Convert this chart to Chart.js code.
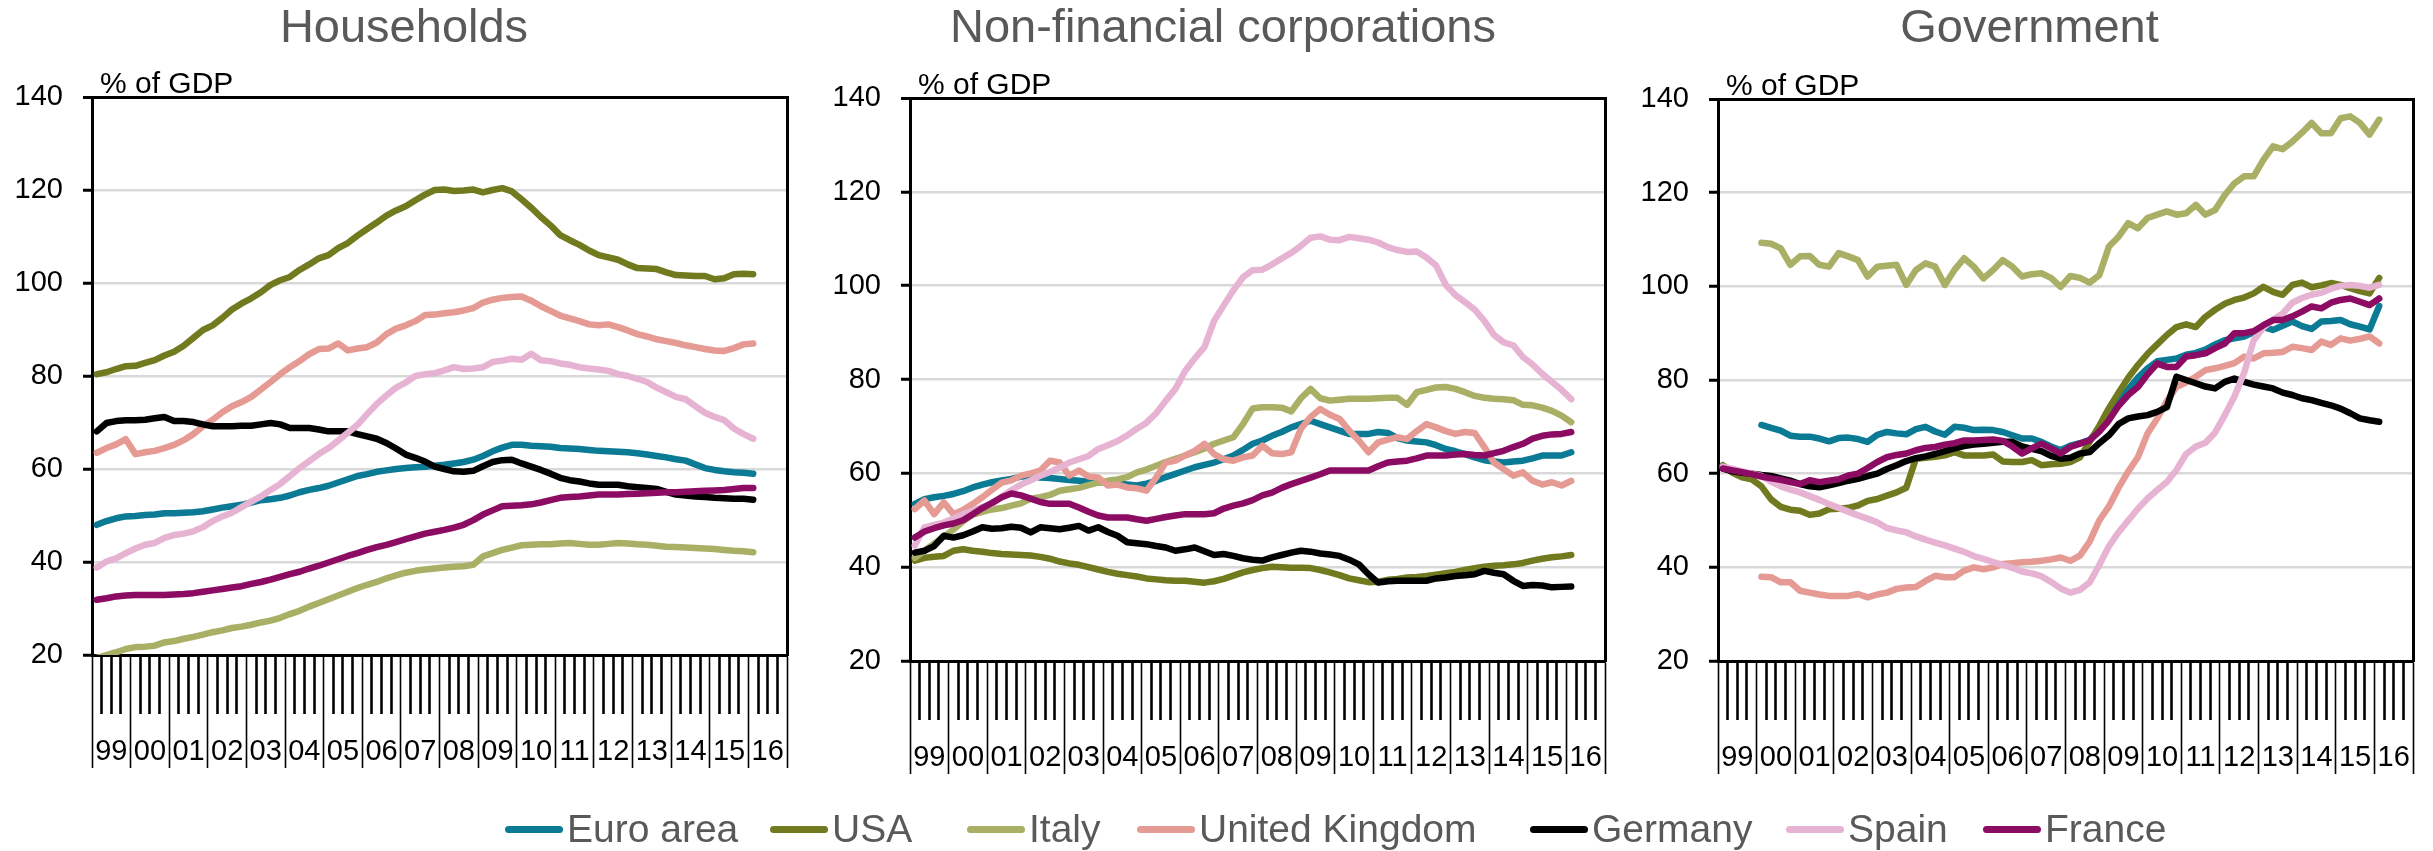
<!DOCTYPE html>
<html>
<head>
<meta charset="utf-8">
<title>Debt by sector</title>
<script src="https://cdn.jsdelivr.net/npm/chart.js@4.4.1/dist/chart.umd.min.js"></script>
<style>
  body { margin: 0; background: #fff; width: 2433px; height: 851px; overflow: hidden; position: relative; }
  canvas { position: absolute; top: 0; }
  #legend { position: absolute; left: 0; top: 807px; width: 2433px; height: 44px;
            font: 39px "Liberation Sans", Arial, sans-serif; line-height: 44px; color: #595959; white-space: nowrap; }
  #legend .item { position: absolute; top: 0; display: flex; align-items: center; height: 44px; }
  #legend .swatch { width: 58px; height: 7px; border-radius: 4px; margin-right: 4px; }
</style>
</head>
<body>
<canvas id="households" width="808" height="851" style="left:0px"></canvas>
<canvas id="corporations" width="810" height="851" style="left:818px"></canvas>
<canvas id="government" width="807" height="851" style="left:1626px"></canvas>
<div id="legend"></div>
<script>
// quarterly, 1999Q1 .. 2016Q1 (69 points), % of GDP
const yearLabels = ['99','00','01','02','03','04','05','06','07','08','09','10','11','12','13','14','15','16'];
const seriesNames = ['Euro area', 'USA', 'Italy', 'United Kingdom', 'Germany', 'Spain', 'France'];
const seriesColors = ['#0b7a94', '#717a1e', '#a9b066', '#e59a93', '#000000', '#e7b3d3', '#8c0b63'];
const legendLeft = [505, 770, 967, 1137, 1530, 1786, 1983];

// Households
const hhEuro = [48.0,48.8,49.4,49.8, 49.9,50.1,50.2,50.5, 50.5,50.6,50.7,50.9, 51.3,51.7,52.0,52.3, 52.8,53.3,53.5,53.8, 54.3,55.0,55.5,55.9, 56.4,57.1,57.8,58.5, 58.9,59.4,59.7,60.0, 60.2,60.4,60.5,60.7, 60.9,61.2,61.5,62.0, 62.8,63.8,64.6,65.2, 65.2,65.0,64.9,64.8, 64.5,64.4,64.3,64.1, 63.9,63.8,63.7,63.6, 63.4,63.1,62.8,62.5, 62.1,61.8,61.0,60.2, 59.8,59.5,59.3,59.2, 59.0];
const hhUsa = [80.4,80.8,81.5,82.1, 82.2,82.8,83.4,84.4, 85.2,86.5,88.2,89.9, 90.9,92.5,94.3,95.6, 96.7,98.0,99.6,100.6, 101.3,102.8,104.0,105.3, 106.0,107.5,108.6,110.2, 111.6,113.0,114.5,115.6, 116.5,117.8,119.0,120.0, 120.1,119.8,119.9,120.1, 119.5,120.0,120.4,119.7, 118.0,116.2,114.2,112.4, 110.3,109.2,108.2,107.0, 106.0,105.5,105.0,104.0, 103.2,103.1,103.0,102.3, 101.7,101.6,101.5,101.5, 100.8,101.0,101.9,102.0, 101.9];
const hhItaly = [19.4,20.0,20.6,21.3, 21.7,21.8,22.0,22.7, 23.0,23.5,23.9,24.4, 24.9,25.3,25.8,26.1, 26.5,27.0,27.4,28.0, 28.8,29.5,30.4,31.2, 32.0,32.8,33.6,34.4, 35.1,35.7,36.5,37.1, 37.7,38.1,38.4,38.6, 38.8,39.0,39.1,39.4, 41.2,41.9,42.6,43.1, 43.6,43.7,43.8,43.8, 44.0,44.1,43.9,43.7, 43.7,43.9,44.1,44.0, 43.8,43.7,43.5,43.3, 43.2,43.1,43.0,42.9, 42.8,42.6,42.4,42.3, 42.1];
const hhUk = [63.5,64.5,65.3,66.4, 63.2,63.6,63.9,64.5, 65.2,66.2,67.5,69.2, 70.6,72.2,73.5,74.4, 75.5,77.1,78.7,80.4, 81.9,83.2,84.7,85.8, 85.9,87.0,85.5,85.9, 86.2,87.2,89.0,90.2, 90.9,91.8,93.1,93.2, 93.5,93.7,94.1,94.6, 95.8,96.4,96.8,97.0, 97.1,96.2,95.0,94.0, 93.0,92.4,91.8,91.1, 90.9,91.1,90.5,89.8, 89.0,88.5,87.9,87.5, 87.1,86.6,86.2,85.8, 85.5,85.4,86.0,86.8, 87.0];
const hhGermany = [68.1,69.9,70.3,70.5, 70.5,70.6,70.9,71.2, 70.3,70.3,70.1,69.6, 69.2,69.2,69.2,69.3, 69.3,69.6,69.9,69.6, 68.8,68.8,68.8,68.5, 68.1,68.1,68.1,67.5, 67.0,66.5,65.6,64.4, 63.1,62.4,61.6,60.5, 60.0,59.5,59.4,59.6, 60.6,61.5,61.9,62.0, 61.2,60.5,59.8,59.0, 58.1,57.6,57.3,56.9, 56.6,56.6,56.6,56.3, 56.1,55.9,55.7,55.1, 54.5,54.3,54.1,54.0, 53.8,53.7,53.6,53.6, 53.4];
const hhSpain = [38.8,40.1,40.8,41.9, 42.9,43.7,44.1,45.2, 45.8,46.1,46.6,47.5, 48.8,49.8,50.6,51.8, 53.0,54.1,55.5,56.8, 58.5,60.2,61.7,63.2, 64.5,66.1,67.8,69.5, 71.8,74.0,75.8,77.5, 78.6,80.0,80.4,80.6, 81.2,81.9,81.5,81.6, 81.9,83.0,83.3,83.7, 83.5,84.8,83.4,83.2, 82.7,82.4,81.9,81.6, 81.4,81.1,80.4,80.0, 79.4,78.7,77.5,76.5, 75.5,75.0,73.5,72.1, 71.2,70.5,68.7,67.5, 66.5];
const hhFrance = [31.9,32.2,32.6,32.8, 32.9,32.9,32.9,32.9, 33.0,33.1,33.3,33.6, 33.9,34.2,34.5,34.8, 35.3,35.7,36.2,36.8, 37.4,37.9,38.6,39.2, 39.9,40.6,41.3,41.9, 42.6,43.2,43.7,44.3, 44.9,45.5,46.1,46.5, 46.9,47.4,48.0,49.0, 50.2,51.1,52.0,52.1, 52.2,52.4,52.8,53.3, 53.8,54.0,54.1,54.3, 54.5,54.5,54.5,54.6, 54.7,54.8,54.9,55.0, 55.0,55.1,55.2,55.3, 55.4,55.5,55.7,55.9, 55.9];

// Non-financial corporations
const nfcEuro = [53.5,54.5,54.9,55.2, 55.6,56.2,57.0,57.6, 58.1,58.5,58.8,59.3, 59.4,59.1,59.0,58.8, 58.6,58.4,58.2,58.1, 58.1,58.0,57.6,57.4, 57.8,58.4,59.2,59.9, 60.6,61.3,61.8,62.3, 63.0,63.8,65.0,66.3, 67.0,68.0,68.8,69.8, 70.5,71.2,70.5,69.8, 69.1,68.4,68.4,68.4, 68.8,68.6,67.5,67.0, 66.8,66.6,66.0,65.2, 64.7,64.1,63.4,62.8, 62.5,62.3,62.5,62.7, 63.2,63.8,63.8,63.8, 64.5];
const nfcUsa = [41.4,42.0,42.2,42.4, 43.5,43.8,43.5,43.3, 43.0,42.8,42.7,42.6, 42.5,42.2,41.8,41.2, 40.8,40.5,40.0,39.5, 39.0,38.6,38.3,38.0, 37.6,37.4,37.2,37.1, 37.1,36.9,36.7,37.0, 37.5,38.2,38.9,39.4, 39.8,40.1,40.0,39.9, 39.9,39.8,39.4,38.9, 38.3,37.6,37.2,36.8, 36.9,37.3,37.5,37.8, 37.9,38.1,38.4,38.7, 39.0,39.4,39.8,40.1, 40.3,40.4,40.6,40.9, 41.4,41.8,42.1,42.3, 42.6];
const nfcItaly = [42.0,43.5,45.0,46.5, 48.0,49.8,51.2,51.8, 52.3,52.6,53.1,53.6, 54.6,54.9,55.4,56.3, 56.6,56.9,57.5,58.0, 58.4,58.7,59.2,60.2, 60.8,61.6,62.4,63.1, 63.8,64.5,65.3,66.3, 67.0,67.7,70.5,73.8, 74.1,74.1,74.0,73.2, 76.0,78.0,76.0,75.5, 75.7,75.9,75.9,75.9, 76.0,76.1,76.1,74.6, 77.3,77.8,78.3,78.4, 78.0,77.3,76.5,76.1, 75.9,75.8,75.6,74.6, 74.5,74.0,73.3,72.3, 70.9];
const nfcUk = [52.4,54.2,51.3,53.8, 51.3,52.2,53.5,54.9, 56.5,58.0,58.5,59.5, 60.0,60.6,62.7,62.3, 59.5,60.6,59.3,59.1, 57.4,57.6,57.0,56.8, 56.3,59.1,62.3,62.7, 63.8,64.8,66.3,64.1, 63.0,62.7,63.4,63.8, 65.9,64.3,64.1,64.5, 69.5,72.0,73.7,72.5, 71.6,69.1,67.0,64.5, 66.6,67.2,67.7,67.3, 69.0,70.5,69.8,69.0, 68.4,68.8,68.6,65.6, 62.3,60.9,59.5,60.2, 58.4,57.6,58.1,57.4, 58.4];
const nfcGermany = [43.1,43.5,44.5,46.7, 46.3,46.8,47.6,48.5, 48.2,48.3,48.6,48.4, 47.4,48.5,48.3,48.1, 48.4,48.8,47.8,48.5, 47.5,46.7,45.3,45.1, 44.9,44.5,44.2,43.5, 43.8,44.2,43.4,42.6, 42.8,42.4,41.9,41.6, 41.4,42.1,42.6,43.1, 43.5,43.3,42.9,42.7, 42.4,41.6,40.6,38.5, 36.7,37.0,37.1,37.1, 37.1,37.1,37.6,37.8, 38.1,38.3,38.5,39.2, 38.8,38.5,37.1,36.0, 36.2,36.1,35.7,35.8, 35.9];
const nfcSpain = [44.6,48.5,49.0,49.5, 50.4,51.3,52.0,52.8, 53.5,55.0,56.4,57.6, 58.5,59.5,60.3,61.2, 62.3,63.0,63.7,65.2, 66.0,66.9,68.1,69.5, 70.8,72.8,75.5,78.0, 81.8,84.5,86.9,92.5, 95.8,99.0,101.8,103.3, 103.4,104.5,105.8,107.0, 108.5,110.2,110.5,109.8, 109.7,110.4,110.1,109.8, 109.2,108.2,107.6,107.2, 107.3,106.0,104.3,100.2, 98.0,96.5,94.9,92.5, 89.5,87.9,87.3,84.8, 83.2,81.2,79.5,77.8, 75.8];
const nfcFrance = [46.3,47.6,48.3,48.9, 49.3,50.0,51.3,52.6, 53.7,54.9,55.7,55.3, 54.6,53.9,53.5,53.5, 53.5,52.7,51.8,51.0, 50.6,50.6,50.6,50.2, 49.9,50.3,50.7,51.0, 51.3,51.3,51.3,51.5, 52.5,53.1,53.6,54.3, 55.3,55.9,56.9,57.7, 58.4,59.1,59.8,60.6, 60.6,60.6,60.6,60.6, 61.5,62.3,62.5,62.7, 63.2,63.8,63.8,63.8, 64.0,64.1,63.9,63.8, 64.3,64.8,65.6,66.3, 67.4,68.0,68.3,68.4, 68.8];

// Government (Euro area, Italy and UK start in 2000Q1)
const govEuro = [null,null,null,null, 70.4,69.8,69.2,68.1, 67.9,67.9,67.5,66.9, 67.6,67.7,67.4,66.8, 68.3,68.9,68.6,68.4, 69.5,70.0,69.0,68.3, 70.0,69.8,69.3,69.4, 69.3,68.9,68.2,67.5, 67.5,66.8,65.8,65.0, 66.0,66.5,67.2,69.5, 72.5,75.5,78.0,80.5, 82.5,84.0,84.3,84.6, 85.4,85.8,86.5,87.6, 88.5,88.9,89.3,90.2, 91.3,90.7,91.6,92.5, 91.5,90.9,92.5,92.6, 92.8,91.9,91.4,90.8, 95.8];
const govUsa = [61.8,60.2,59.2,58.8, 57.3,54.5,52.9,52.3, 52.1,51.2,51.5,52.4, 52.5,52.7,53.2,54.2, 54.6,55.3,56.0,57.0, 63.2,63.4,63.6,63.9, 64.6,63.9,63.9,63.9, 64.1,62.6,62.5,62.5, 62.9,61.8,62.0,62.1, 62.5,63.5,66.8,70.2, 74.0,77.3,80.5,83.2, 85.6,87.6,89.6,91.3, 91.9,91.3,93.5,95.0, 96.3,97.1,97.6,98.5, 99.9,98.8,98.2,100.3, 100.8,99.8,100.2,100.7, 100.3,99.6,99.0,98.5, 101.8];
const govItaly = [null,null,null,null, 109.3,109.1,108.1,104.6, 106.4,106.5,104.6,104.2, 107.1,106.4,105.6,102.1, 104.2,104.4,104.6,100.3, 103.5,104.9,104.2,100.3, 103.5,106.0,104.2,101.7, 103.5,105.6,104.2,102.1, 102.6,102.8,101.8,99.9, 102.2,101.8,100.8,102.4, 108.5,110.6,113.5,112.4, 114.6,115.3,116.0,115.3, 115.6,117.4,115.3,116.3, 119.5,122.0,123.5,123.5, 127.0,129.9,129.3,130.9, 132.8,134.9,132.7,132.7, 135.9,136.3,134.9,132.4, 135.6];
const govUk = [null,null,null,null, 38.0,37.9,36.8,36.8, 35.0,34.6,34.2,33.9, 33.9,33.9,34.3,33.6, 34.2,34.6,35.4,35.7, 35.8,37.1,38.2,37.9, 37.9,39.3,40.0,39.6, 40.0,40.7,40.9,41.1, 41.2,41.4,41.7,42.1, 41.4,42.5,45.5,50.0, 53.0,57.0,60.5,63.5, 68.6,71.8,75.5,78.5, 79.5,80.7,82.1,82.5, 83.0,83.6,85.0,84.6, 85.7,85.8,86.0,87.1, 86.8,86.4,88.2,87.5, 88.9,88.4,88.8,89.3, 87.8];
const govGermany = [61.1,60.5,60.2,60.0, 59.7,59.5,59.0,58.5, 57.8,57.3,57.1,57.5, 58.0,58.5,58.9,59.5, 60.0,61.0,61.8,62.7, 63.3,63.7,64.2,64.8, 65.4,65.9,66.2,66.4, 66.6,66.8,66.8,65.8, 65.3,64.8,63.8,63.2, 63.4,64.3,64.6,66.5, 68.2,70.6,71.8,72.2, 72.5,73.2,74.2,80.7, 80.0,79.3,78.6,78.2, 79.6,80.3,79.6,79.0, 78.6,78.2,77.3,76.8, 76.1,75.7,75.1,74.6, 73.9,72.9,71.8,71.4, 71.1];
const govSpain = [61.5,61.0,60.5,60.0, 59.5,58.3,57.3,56.6, 56.0,55.2,54.4,53.5, 52.7,51.9,51.1,50.4, 49.6,48.4,47.9,47.5, 46.6,45.9,45.3,44.7, 44.0,43.3,42.4,41.8, 41.1,40.5,39.9,39.1, 38.7,38.1,36.9,35.5, 34.6,35.2,36.8,40.5, 44.5,47.5,50.0,52.5, 54.7,56.5,58.2,60.8, 64.2,65.8,66.6,68.8, 72.5,76.5,81.5,88.5, 91.2,92.8,94.2,96.5, 97.5,98.2,98.6,99.5, 100.1,100.3,100.1,99.7, 100.3];
const govFrance = [61.1,60.7,60.3,59.9, 59.4,59.0,58.7,58.2, 57.8,58.6,58.2,58.5, 58.8,59.6,60.0,61.2, 62.5,63.5,64.0,64.3, 65.0,65.5,65.7,66.2, 66.5,67.1,67.1,67.2, 67.3,67.0,65.8,64.3, 65.4,66.4,65.4,64.3, 65.7,66.4,67.1,69.0, 71.4,74.5,76.8,78.5, 81.2,83.5,82.8,82.8, 85.0,85.3,85.7,86.8, 87.8,90.0,90.0,90.4, 91.7,92.8,92.8,93.6, 94.6,95.7,95.3,96.5, 97.1,97.4,96.7,96.0, 97.4];

Chart.defaults.font.family = '"Liberation Sans", Arial, sans-serif';

// quarter boundaries of the axis: 1999Q1 .. 2016Q4
const quarterEdges = [];
for (let i = 0; i <= 72; i++) quarterEdges.push(i - 0.5);

const unitLabel = {
    id: 'unitLabel',
    afterDraw(chart) {
        const { ctx, chartArea } = chart;
        ctx.save();
        ctx.font = '30px "Liberation Sans", Arial, sans-serif';
        ctx.fillStyle = '#000';
        ctx.textBaseline = 'alphabetic';
        ctx.textAlign = 'left';
        ctx.fillText('% of GDP', chartArea.left + 8, chartArea.top - 4);
        ctx.restore();
    }
};

const lineChart = (id, title, series, box) => {
    try {
        var ctx = document.getElementById(id);
        if (ctx) {
            var datasets = series.map((values, i) => ({
                label: seriesNames[i],
                data: values.map((v, q) => ({ x: q, y: v })),
                borderColor: seriesColors[i],
                backgroundColor: seriesColors[i],
                borderWidth: 6.5,
                pointRadius: 0,
                tension: 0,
                fill: false,
                borderCapStyle: 'round',
                borderJoinStyle: 'round',
                order: series.length - i
            }));
            var myChart = new Chart(ctx, {
                type: 'line',
                data: { datasets: datasets },
                plugins: [unitLabel],
                options: {
                    responsive: false,
                    animation: false,
                    events: [],
                    layout: { padding: 0 },
                    plugins: {
                        legend: { display: false },
                        tooltip: { enabled: false },
                        title: {
                            display: true,
                            text: title,
                            color: '#595959',
                            font: { size: 47, weight: 'normal' },
                            padding: { top: 1, bottom: box.titleGap }
                        }
                    },
                    scales: {
                        x: {
                            type: 'linear',
                            min: -0.5,
                            max: 71.5,
                            afterBuildTicks: (s) => { s.ticks = quarterEdges.map(v => ({ value: v })); },
                            afterFit: (s) => { s.height = box.axisHeight; },
                            ticks: {
                                autoSkip: false,
                                maxRotation: 0,
                                color: '#000',
                                font: { size: 29 },
                                padding: -33,
                                labelOffset: 19.3,
                                callback: (v, i) => (i % 4 === 0 && i < 72) ? yearLabels[i / 4] : ''
                            },
                            grid: {
                                drawOnChartArea: false,
                                tickLength: 113,
                                tickColor: '#000',
                                tickWidth: (c) => c.index % 4 === 0 ? 1.6 : 2.6,
                                tickBorderDash: (c) => c.index % 4 === 0 ? [] : [57, 300]
                            },
                            border: { color: '#000', width: 3 }
                        },
                        y: {
                            min: 20,
                            max: 140,
                            afterFit: (s) => { s.width = 92; },
                            ticks: { stepSize: 20, color: '#000', font: { size: 29 }, padding: 20 },
                            grid: {
                                color: (c) => c.tick.value === 140 ? '#000' : (c.tick.value === 20 ? 'rgba(0,0,0,0)' : '#d9d9d9'),
                                lineWidth: (c) => c.tick.value === 140 ? 3 : 2.5,
                                tickLength: 9,
                                tickColor: '#000',
                                tickWidth: 3
                            },
                            border: { color: '#000', width: 3 }
                        },
                        right: {
                            type: 'linear',
                            position: 'right',
                            afterFit: (s) => { s.width = box.rightGap; },
                            ticks: { display: false },
                            grid: { display: false },
                            border: { color: '#000', width: 3 }
                        }
                    }
                }
            });
        }
    } catch (error) {
        console.log(error);
    }
}

lineChart('households', 'Households',
    [hhEuro, hhUsa, hhItaly, hhUk, hhGermany, hhSpain, hhFrance],
    { titleGap: 39.6, axisHeight: 196, rightGap: 21 });
lineChart('corporations', 'Non-financial corporations',
    [nfcEuro, nfcUsa, nfcItaly, nfcUk, nfcGermany, nfcSpain, nfcFrance],
    { titleGap: 40.6, axisHeight: 190, rightGap: 23 });
lineChart('government', 'Government',
    [govEuro, govUsa, govItaly, govUk, govGermany, govSpain, govFrance],
    { titleGap: 41.6, axisHeight: 190, rightGap: 20 });

// legend
const legend = document.getElementById('legend');
seriesNames.forEach((name, i) => {
    const item = document.createElement('div');
    item.className = 'item';
    item.style.left = legendLeft[i] + 'px';
    const swatch = document.createElement('span');
    swatch.className = 'swatch';
    swatch.style.background = seriesColors[i];
    const text = document.createElement('span');
    text.textContent = name;
    item.appendChild(swatch);
    item.appendChild(text);
    legend.appendChild(item);
});
</script>
</body>
</html>
